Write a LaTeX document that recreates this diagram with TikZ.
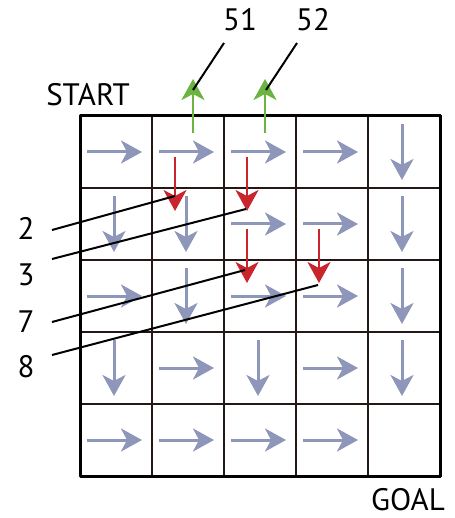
\documentclass[tikz,border=0pt]{standalone}
\usepackage{fontspec}
\setmainfont{PT Sans}
\usetikzlibrary{arrows.meta}
\definecolor{policy}{HTML}{8E97BA}
\definecolor{redarr}{HTML}{C9252C}
\definecolor{greenarr}{HTML}{6BB43F}
\definecolor{gridline}{HTML}{231815}
\tikzset{
  head/.style={-{Stealth[length=21pt,width=23pt,inset=6pt]}},
  policyarrow/.style={head,draw=policy,fill=policy,line width=3pt},
  redarrow/.style={head,draw=redarr,fill=redarr,line width=2.6pt},
  greenarrow/.style={head,draw=greenarr,fill=greenarr,line width=2.6pt},
  leader/.style={draw=black,line width=2pt},
  lbl/.style={font=\fontsize{31}{31}\selectfont,inner sep=0pt},
}
\begin{document}
\begin{tikzpicture}[x=1pt,y=-1pt]
\useasboundingbox (0,0) rectangle (454,518);
% thin grid lines
\foreach \k in {1,2,3,4}{
  \draw[gridline,line width=1.2pt] (80+72*\k,116) -- (80+72*\k,476);
  \draw[gridline,line width=1.2pt] (80,116+72*\k) -- (440,116+72*\k);
}
% start and goal cell borders
\draw[gridline,line width=2.2pt] (80,188) -- (152,188) -- (152,116);
\draw[gridline,line width=2.2pt] (368,476) -- (368,404) -- (440,404);
% outer frame
\draw[black,line width=3pt,line join=round] (80,116) rectangle (440,476);

% policy arrows: r = right, d = down
\foreach \row/\col/\dir in {
  0/0/r,0/1/r,0/2/r,0/3/r,0/4/d,
  1/0/d,1/1/d,1/2/r,1/3/r,1/4/d,
  2/0/r,2/1/d,2/2/r,2/3/r,2/4/d,
  3/0/d,3/1/r,3/2/d,3/3/r,3/4/d,
  4/0/r,4/1/r,4/2/r,4/3/r}{
  \pgfmathsetmacro{\cx}{116+72*\col}
  \pgfmathsetmacro{\cy}{152+72*\row}
  \if\dir r
    \draw[policyarrow] (\cx-29,\cy) -- (\cx+26,\cy);
  \else
    \draw[policyarrow] (\cx-2,\cy-28) -- (\cx-2,\cy+28);
  \fi
}

% red arrows
\coordinate (r2s) at (175,157); \coordinate (r2) at (175,211);
\coordinate (r3s) at (247,157); \coordinate (r3) at (247,211);
\coordinate (r7s) at (247,229); \coordinate (r7) at (247,283);
\coordinate (r8s) at (319,229); \coordinate (r8) at (319,283);
\foreach \n in {2,3,7,8}{\draw[redarrow] (r\n s) -- (r\n);}

% green arrows
\coordinate (g51s) at (193,133); \coordinate (g51) at (193,79);
\coordinate (g52s) at (265,133); \coordinate (g52) at (265,79);
\draw[greenarrow] (g51s) -- (g51);
\draw[greenarrow] (g52s) -- (g52);

% labels
\node[lbl] (start) at (88,95) {START};
\node[lbl] (goal) at (408,500) {GOAL};
\node[lbl] (l51) at (240,20) {51};
\node[lbl] (l52) at (313,20) {52};
\node[lbl] (l2) at (26,228) {2};
\node[lbl] (l3) at (26,275) {3};
\node[lbl] (l7) at (26,322) {7};
\node[lbl] (l8) at (26,367) {8};

% leader lines
\coordinate (t51) at (193,90); \coordinate (t52) at (266,90);
\coordinate (t2) at (175,196); \coordinate (t3) at (246,209);
\coordinate (t7) at (245,270); \coordinate (t8) at (318,285);
\draw[leader] (224,43) -- (t51);
\draw[leader] (297,43) -- (t52);
\draw[leader] (52,230) -- (t2);
\draw[leader] (52,259) -- (t3);
\draw[leader] (52,322) -- (t7);
\draw[leader] (52,355) -- (t8);
\end{tikzpicture}
\end{document}
